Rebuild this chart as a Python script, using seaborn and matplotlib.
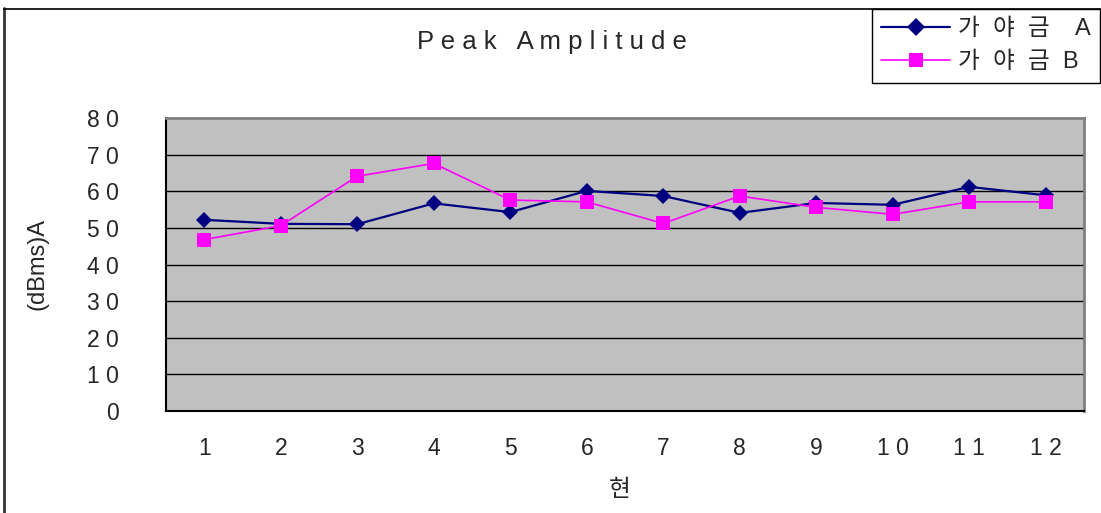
import numpy as np
import pandas as pd
import seaborn as sns
import matplotlib
matplotlib.use("Agg")
import matplotlib.pyplot as plt
from matplotlib.lines import Line2D

# Peak amplitude per string for two gayageum instruments
strings = ["1", "2", "3", "4", "5", "6", "7", "8", "9", "10", "11", "12"]
string_labels = ["1", "2", "3", "4", "5", "6", "7", "8", "9", "1 0", "1 1", "1 2"]
gayageum_a = [52.2, 51.1, 51.0, 56.7, 54.3, 60.1, 58.7, 54.1, 56.8, 56.3, 61.2, 58.9]
gayageum_b = [46.8, 50.6, 64.1, 67.6, 57.6, 57.1, 51.2, 58.7, 55.6, 53.7, 57.1, 57.1]
y_ticks = [0, 10, 20, 30, 40, 50, 60, 70, 80]
y_tick_labels = ["0", "1 0", "2 0", "3 0", "4 0", "5 0", "6 0", "7 0", "8 0"]
series_names = ["가  야  금    A", "가  야  금  B"]

W, H = 1101, 513
sns.set_theme(style="white")
plt.rcParams["font.family"] = ["Liberation Sans", "Noto Sans CJK KR", "DejaVu Sans"]

fig = plt.figure(figsize=(W / 100, H / 100), dpi=100)
fig.patch.set_facecolor("white")

left, right, top, bottom = 166, 1084, 118, 411
ax = fig.add_axes([left / W, 1 - bottom / H, (right - left) / W, (bottom - top) / H])
ax.set_facecolor("#C0C0C0")

pos = np.arange(len(strings))
df = pd.DataFrame({
    "pos": np.concatenate([pos, pos]),
    "value": gayageum_a + gayageum_b,
    "series": [series_names[0]] * len(pos) + [series_names[1]] * len(pos),
})

sns.lineplot(data=df[df.series == series_names[0]], x="pos", y="value", ax=ax,
             color="#000080", linewidth=1.6, marker="D", markersize=8.5,
             markeredgewidth=0, label=series_names[0], zorder=3)
sns.lineplot(data=df[df.series == series_names[1]], x="pos", y="value", ax=ax,
             color="#FF00FF", linewidth=1.2, marker="s", markersize=10,
             markeredgewidth=0, label=series_names[1], zorder=4)

ax.set_xlim(-0.5, len(strings) - 0.5)
ax.set_ylim(0, 80)

# horizontal gridlines
for yv in y_ticks[1:-1]:
    ax.axhline(yv, color="black", linewidth=1.0, zorder=1)

ax.set_yticks(y_ticks)
ax.set_yticklabels(y_tick_labels, fontsize=16.5)
ax.tick_params(axis="y", length=0, pad=34)

ax.set_xticks(pos)
ax.set_xticklabels(string_labels, fontsize=16.5)
ax.set_xticks(np.arange(0.5, len(strings) - 0.5, 1.0), minor=True)
ax.tick_params(axis="x", which="major", length=0, pad=19)
ax.tick_params(axis="x", which="minor", direction="in", length=6, width=1, color="black")

for side in ["left", "bottom"]:
    ax.spines[side].set_color("black")
    ax.spines[side].set_linewidth(1.5)
for side in ["top", "right"]:
    ax.spines[side].set_color("#808080")
    ax.spines[side].set_linewidth(2)

ax.set_xlabel("현", fontsize=17)
ax.xaxis.set_label_coords((620 - left) / (right - left), -(490 - bottom) / (bottom - top))
ax.xaxis.label.set_va("center")
ax.set_ylabel("(dBms)A", fontsize=17)
ax.yaxis.set_label_coords(-(left - 37) / (right - left), 0.5)
ax.yaxis.label.set_va("center")

fig.text(552 / W, 1 - 42 / H, "P e a k   A m p l i t u d e", fontsize=18.5,
         ha="center", va="center")

# chart border (left and top edges)
fig.add_artist(Line2D([3.5 / W, 3.5 / W], [0, 1 - 8 / H], color="#333333", linewidth=2,
                      transform=fig.transFigure))
fig.add_artist(Line2D([3.5 / W, 1], [1 - 8.5 / H, 1 - 8.5 / H], color="black", linewidth=1.2,
                      transform=fig.transFigure))

ax.get_legend().remove()
handles = [
    Line2D([], [], color="#000080", linewidth=1.6, marker="D", markersize=9, markeredgewidth=0),
    Line2D([], [], color="#FF00FF", linewidth=1.2, marker="s", markersize=10.5, markeredgewidth=0),
]
leg = fig.legend(handles, series_names, loc="upper left",
                 bbox_to_anchor=(872 / W, 1 - 9 / H), fontsize=17,
                 frameon=True, fancybox=False, edgecolor="black", framealpha=1,
                 borderaxespad=0, borderpad=0.4, handlelength=2.9, handletextpad=0.35,
                 labelspacing=0.45)
leg.get_frame().set_linewidth(1.0)

fig.savefig("out.png", dpi=100)
